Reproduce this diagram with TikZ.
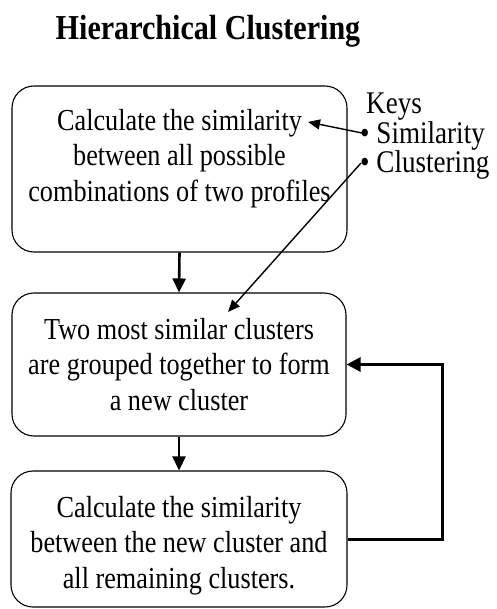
\documentclass[tikz,border=0pt]{standalone}
\usepackage{fontspec}
\setmainfont[FakeStretch=0.86]{Liberation Serif}
\usetikzlibrary{arrows.meta}
\begin{document}
\begin{tikzpicture}[x=1pt,y=-1pt,
  box/.style={draw,line width=1.1pt,rounded corners=22pt,align=center,inner sep=0pt,
    font=\fontsize{30.5}{35.5}\selectfont},
  keytext/.style={anchor=north west,inner sep=0pt,align=left,font=\fontsize{31.5}{29.5}\selectfont},
  flow/.style={line width=2.6pt,-{Triangle[length=14pt,width=13pt]}},
  keyarrow/.style={line width=1.4pt,-{Triangle[length=12pt,width=10pt]}}]
\useasboundingbox (0,0) rectangle (496,609);
\node[font=\bfseries\fontsize{35}{40}\selectfont,inner sep=0pt] (title) at (208,31) {Hierarchical Clustering};
\node[box,minimum width=335pt,minimum height=166pt] (b1) at (179.5,169)
  {Calculate the similarity\\between all possible\\combinations of two profiles\rule[-28pt]{0pt}{0pt}};
\node[box,minimum width=334pt,minimum height=143pt] (b2) at (179,364.5)
  {Two most similar clusters\\are grouped together to form\\a new cluster};
\node[box,minimum width=336pt,minimum height=136pt] (b3) at (179,539)
  {\rule{0pt}{34pt}Calculate the similarity\\between the new cluster and\\all remaining clusters.};
\node[keytext] (keys) at (360,93) {\hspace{6pt}Keys\\\textbullet\ Similarity\\\textbullet\ Clustering};
\coordinate (simtip) at (308,122);
\coordinate (clutip) at (228,312);
\coordinate (simtail) at (362,133);
\coordinate (clutail) at (361,163);
\draw[keyarrow] (simtail) -- (simtip);
\draw[keyarrow] (clutail) -- (clutip);
\draw[flow] (b1.south) -- (b2.north);
\draw[flow] (b2.south) -- (b3.north);
\draw[line width=3pt,-{Triangle[length=14pt,width=14pt]}] (b3.east) -- ++(95,0) |- (b2.east);
\end{tikzpicture}
\end{document}
